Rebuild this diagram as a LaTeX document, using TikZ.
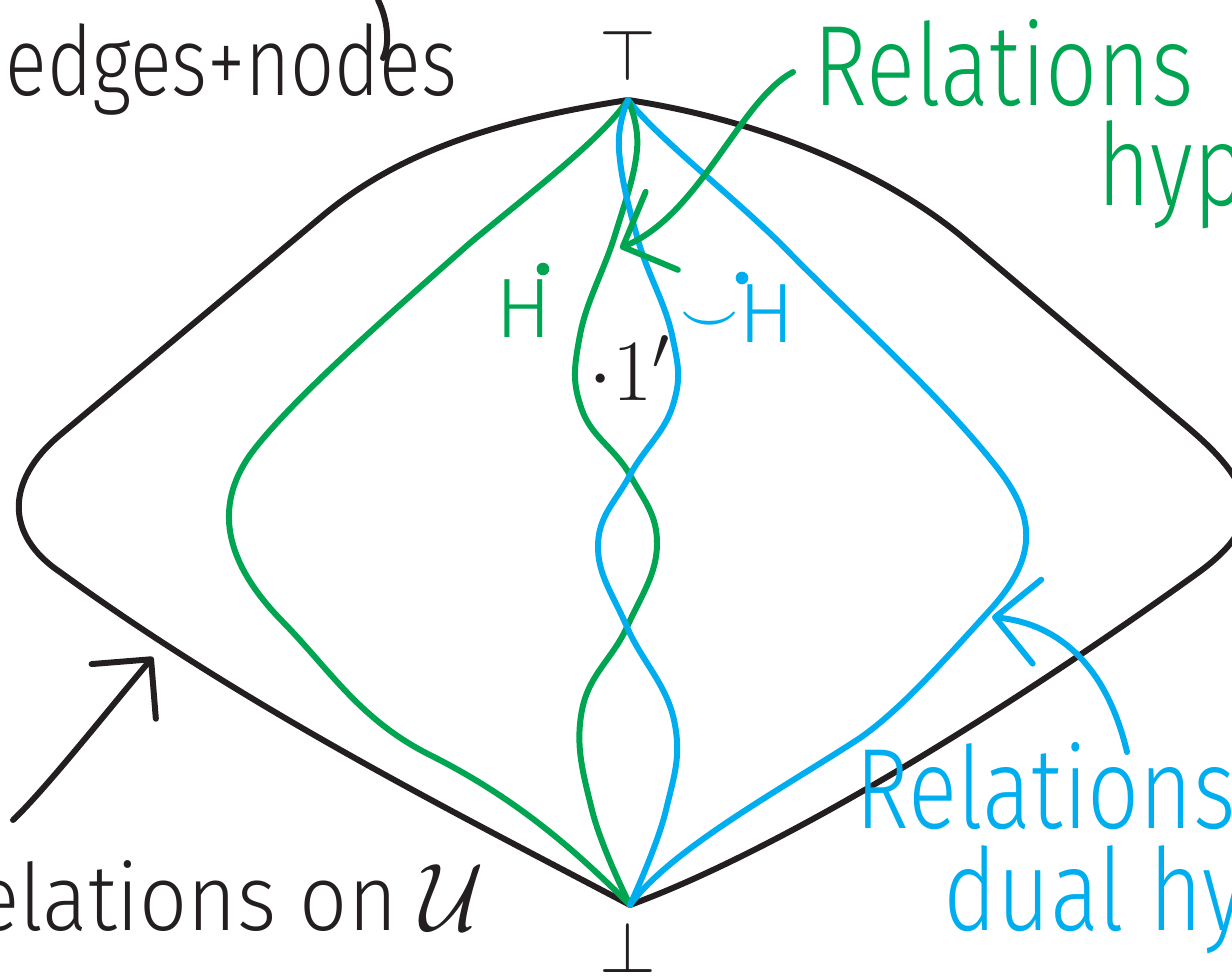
\documentclass[tikz,border=0pt]{standalone}
\usepackage{amsmath, amssymb}
\usepackage{fontspec}
\setmainfont{Fira Sans Light}
\usetikzlibrary{arrows.meta}
\definecolor{hgreen}{RGB}{0,165,81}
\definecolor{hblue}{RGB}{0,174,239}
\definecolor{hblack}{RGB}{35,31,32}
\newcommand{\tallword}[1]{\scalebox{1}[1.25]{#1}}

\begin{document}
\begin{tikzpicture}[x=0.01cm, y=-0.01cm, line cap=round, line join=round,
        pen/.style={line width=1.7pt},
        barb/.style={-{Straight Barb[length=12pt, width=24pt, round]}},
        hand/.style={inner sep=0pt, font=\fontsize{#1}{#1}\selectfont}]
            \useasboundingbox (0,0) rectangle (1232,978);
            \clip (0,0) rectangle (1232,978);
            \coordinate (T) at (628,100);
            \coordinate (B) at (630,905);
            \coordinate (X_1) at (630,475);
            \coordinate (X_2) at (627,627);
            \draw[pen, hblack] (T) .. controls (500,120) and (400,150) .. (320,218) -- (60,435)
                .. controls (5,481) and (5,535) .. (60,572) .. controls (250,710) and (450,810) .. (B);
            \draw[pen, hblack] (T) .. controls (760,120) and (880,170) .. (960,235) -- (1185,425)
                .. controls (1260,488) and (1265,525) .. (1195,575) .. controls (1000,715) and (780,850) .. (B);
            \draw[pen, hgreen] (T) .. controls (600,140) and (540,185) .. (470,243) .. controls (400,305) and (290,400) .. (250,455)
                .. controls (215,505) and (222,560) .. (283,622) .. controls (330,670) and (360,720) .. (430,755)
                .. controls (520,800) and (580,855) .. (B);
            \draw[pen, hblue] (T) .. controls (660,140) and (720,185) .. (780,243) .. controls (850,315) and (940,395) .. (995,465)
                .. controls (1035,515) and (1040,555) .. (990,610) .. controls (940,665) and (900,710) .. (860,738)
                .. controls (780,790) and (670,850) .. (B);
            \draw[pen, hgreen] plot[smooth, tension=0.7] coordinates {(T) (637,150) (615,235) (580,335) (582,410) (X_1) (657,545) (X_2) (582,710) (592,810) (B)};
            \draw[pen, hblue] plot[smooth, tension=0.7] coordinates {(T) (619,150) (638,240) (672,335) (673,405) (X_1) (598,545) (X_2) (674,720) (666,810) (B)};
            \draw[pen, hblack] (378,0) .. controls (388,20) and (390,45) .. (383,58);
            \coordinate (GA) at (793,72);
            \coordinate (GT) at (620,248);
            \coordinate (BA) at (1127,752);
            \coordinate (BT) at (992,617);
            \coordinate (KA) at (13,820);
            \coordinate (KT) at (153,657);
            \draw[pen, hgreen, barb] (GA) .. controls (740,100) and (700,215) .. (GT);
            \draw[pen, hblue, barb] (BA) .. controls (1110,680) and (1070,625) .. (BT);
            \draw[pen, hblack, barb] (KA) .. controls (45,790) and (113,704) .. (KT);
            \node[hand=20, hblack] (top) at (628,55) {$\top$};
            \node[hand=20, hblack] (bot) at (628,947) {$\bot$};
            \node[hand=22, hblack, anchor=base west] (edges) at (5,95) {\tallword{edges+nodes}};
            \node[hand=26, hgreen, anchor=base west] (relg) at (813,105) {\tallword{Relations}};
            \node[hand=26, hgreen, anchor=base west] (hypg) at (1097,205) {\tallword{hypergraphs}};
            \node[hand=26, hblue, anchor=base west] (relb) at (855,828) {\tallword{Relations}};
            \node[hand=26, hblue, anchor=base west] (dualb) at (943,930) {\tallword{dual hypergraphs}};
            \node[hand=24, hblack, anchor=base east] (relu) at (485,930) {\scalebox{1}[1.1]{Relations on $\mathcal{U}$}};
            \node[hand=24, hgreen, anchor=base] (Hg) at (524,337) {H};
            \fill[hgreen] (543,269) circle (1.8pt);
            \node[hand=24, hblue, anchor=base] (Hb) at (738,342) {\raisebox{3pt}{\fontsize{14}{14}\selectfont$\boldsymbol{\smile}$}H};
            \fill[hblue] (742,278) circle (1.8pt);
            \node[hand=26, hblack] (one) at (630,368) {$\cdot 1'$};
        \end{tikzpicture}
\end{document}
